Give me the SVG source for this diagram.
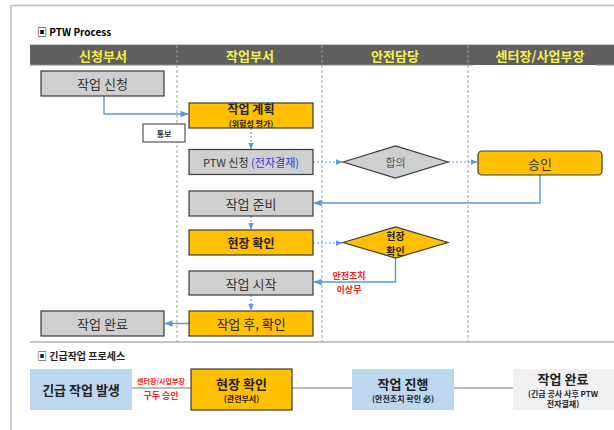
<svg xmlns="http://www.w3.org/2000/svg" width="614" height="430" viewBox="0 0 614 430">
<defs>
<style>
.t{font-family:"Noto Sans CJK KR","Noto Sans",sans-serif;text-anchor:middle;dominant-baseline:central}
.b{font-weight:bold}
.gray{fill:#d0cfd0;stroke:#3a3a3a;stroke-width:1.2}
.org{fill:#ffc000;stroke:#3a3a3a;stroke-width:1.2}
.hd{fill:#f2f24a;font-size:13px;font-weight:bold}
.sol{stroke:#5b9bd5;stroke-width:1.4;fill:none}
.dot{stroke:#5b9bd5;stroke-width:1.2;fill:none;stroke-dasharray:2,2}
.gl{stroke:#a6a6a6;stroke-width:1.5;fill:none}
.div{stroke:#a0a0a0;stroke-width:1;stroke-dasharray:3,2}
.red{fill:#ff2020;font-weight:bold}
</style>
<marker id="ah" viewBox="0 0 10 10" refX="9" refY="5" markerWidth="6" markerHeight="6" orient="auto">
<path d="M0,1 L10,5 L0,9 z" fill="#5b9bd5"/>
</marker>
</defs>
<rect width="614" height="430" fill="#fff"/>
<path d="M11,430 V5.5 H614" stroke="#c0c0c0" stroke-width="1.5" fill="none"/>

<text class="t b" x="37" y="31" style="font-size:10px;text-anchor:start">▣ PTW Process</text>

<g id="header">
<rect x="30" y="44" width="584" height="21" fill="#5f5f5f"/>
<line x1="30" y1="44.5" x2="614" y2="44.5" stroke="#c8c8c8" stroke-width="1"/>
<line x1="30" y1="65" x2="473" y2="65" stroke="#8a8a8a" stroke-width="1"/>
<line x1="596" y1="65" x2="614" y2="65" stroke="#8a8a8a" stroke-width="1"/>
<text class="t hd" x="103" y="55">신청부서</text>
<text class="t hd" x="250" y="55">작업부서</text>
<text class="t hd" x="395" y="55">안전담당</text>
<text class="t hd" x="540" y="55">센터장/사업부장</text>
</g>

<g id="dividers">
<line class="div" x1="177" y1="45" x2="177" y2="342"/>
<line class="div" x1="322" y1="45" x2="322" y2="342"/>
<line class="div" x1="468" y1="45" x2="468" y2="342"/>
<line x1="30" y1="342" x2="614" y2="342" stroke="#b0b0b0" stroke-width="1.5"/>
</g>

<g id="connectors">
<path class="sol" d="M104,96 V114 H188" marker-end="url(#ah)"/>
<path class="dot" d="M251,128 V149" marker-end="url(#ah)"/>
<path class="dot" d="M313,162 H342" marker-end="url(#ah)"/>
<path class="dot" d="M448,162 H477" marker-end="url(#ah)"/>
<path class="sol" d="M540,175 V203 H314" marker-end="url(#ah)"/>
<path class="dot" d="M251,216 V229" marker-end="url(#ah)"/>
<path class="dot" d="M313,243 H342" marker-end="url(#ah)"/>
<path class="sol" d="M395.5,258 V282 H314" marker-end="url(#ah)"/>
<path class="dot" d="M251,295 V310" marker-end="url(#ah)"/>
<path class="sol" d="M189,323.5 H165" marker-end="url(#ah)"/>
<text class="t red" x="349" y="275.5" style="font-size:9px">안전조치</text>
<text class="t red" x="349" y="289" style="font-size:9px">이상무</text>
</g>

<g id="n-apply">
<rect class="gray" x="41" y="71" width="123" height="25"/>
<text class="t" x="102.5" y="83.5" style="font-size:13px;fill:#333">작업 신청</text>
</g>
<g id="n-plan">
<rect class="org" x="189" y="103" width="124" height="25"/>
<text class="t b" x="251" y="108.5" style="font-size:12px;fill:#222">작업 계획</text>
<text class="t b" x="251" y="123" style="font-size:8px;fill:#222">(위험성 평가)</text>
</g>
<g id="n-notice">
<rect x="143" y="124" width="42" height="18" fill="#fff" stroke="#333" stroke-width="1"/>
<text class="t b" x="164" y="133" style="font-size:8px;fill:#333">통보</text>
</g>
<g id="n-ptw">
<rect class="gray" x="189" y="149.5" width="124" height="25"/>
<text class="t" x="251" y="162" style="font-size:11px;fill:#333">PTW 신청 <tspan fill="#3333dd">(전자결재)</tspan></text>
</g>
<g id="n-agree">
<polygon class="gray" points="343,162 395.5,146 448,162 395.5,178"/>
<text class="t" x="395.5" y="162" style="font-size:11px;fill:#555">합의</text>
</g>
<g id="n-approve">
<rect class="org" x="478" y="151" width="124" height="24" rx="4"/>
<text class="t" x="540" y="163" style="font-size:13px;fill:#333">승인</text>
</g>
<g id="n-prep">
<rect class="gray" x="189" y="191" width="124" height="25"/>
<text class="t" x="251" y="203.5" style="font-size:13px;fill:#333">작업 준비</text>
</g>
<g id="n-check">
<rect class="org" x="189" y="230" width="124" height="25"/>
<text class="t b" x="251" y="242.5" style="font-size:12px;fill:#222">현장 확인</text>
</g>
<g id="n-check-safety">
<polygon class="org" points="343,242.5 395.5,227 448,242.5 395.5,258"/>
<text class="t b" x="395.5" y="235" style="font-size:10px;fill:#222">현장</text>
<text class="t b" x="395.5" y="250" style="font-size:10px;fill:#222">확인</text>
</g>
<g id="n-start">
<rect class="gray" x="189" y="271" width="124" height="24"/>
<text class="t" x="251" y="283" style="font-size:13px;fill:#333">작업 시작</text>
</g>
<g id="n-after">
<rect class="org" x="189" y="311" width="124" height="25"/>
<text class="t" x="251" y="323.5" style="font-size:13px;fill:#222">작업 후, 확인</text>
</g>
<g id="n-done">
<rect class="gray" x="41" y="311" width="123" height="25"/>
<text class="t" x="102.5" y="323.5" style="font-size:13px;fill:#333">작업 완료</text>
</g>

<text class="t b" x="37" y="355" style="font-size:10px;text-anchor:start;fill:#222">▣ 긴급작업 프로세스</text>

<g id="emergency-connectors">
<line class="gl" x1="132" y1="388" x2="191" y2="388"/>
<line class="gl" x1="292" y1="388" x2="352" y2="388"/>
<line class="gl" x1="454" y1="388" x2="513" y2="388"/>
<text class="t red" x="161" y="381" style="font-size:7px">센터장/사업부장</text>
<text class="t red" x="161" y="395" style="font-size:9px">구두 승인</text>
</g>
<g id="e-occur">
<rect x="30" y="369" width="102" height="41" fill="#bdd7ee"/>
<text class="t b" x="81" y="389.5" style="font-size:13px;fill:#222">긴급 작업 발생</text>
</g>
<g id="e-check">
<rect class="org" x="191" y="369" width="101" height="41"/>
<text class="t b" x="241.5" y="383" style="font-size:13px;fill:#222">현장 확인</text>
<text class="t b" x="241.5" y="398" style="font-size:8px;fill:#222">(관련부서)</text>
</g>
<g id="e-progress">
<rect x="352" y="369" width="102" height="41" fill="#bdd7ee"/>
<text class="t b" x="403" y="383" style="font-size:13px;fill:#222">작업 진행</text>
<text class="t b" x="403" y="398" style="font-size:8px;fill:#222">(안전조치 확인 必)</text>
</g>
<g id="e-done">
<rect x="513" y="369" width="101" height="41" fill="#f0f0f2"/>
<text class="t b" x="563" y="378" style="font-size:13px;fill:#222">작업 완료</text>
<text class="t b" x="563" y="393" style="font-size:8px;fill:#222">(긴급 공사 사후 PTW</text>
<text class="t b" x="563" y="403" style="font-size:8px;fill:#222">전자결재)</text>
</g>
</svg>
